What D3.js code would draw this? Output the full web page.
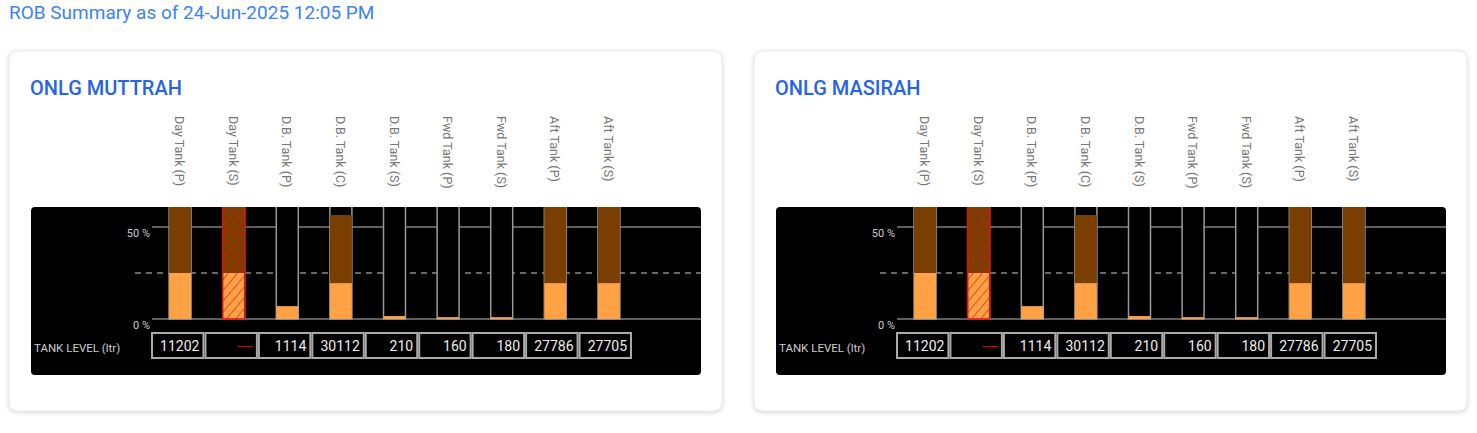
<!DOCTYPE html>
<html><head><meta charset="utf-8">
<script src="https://cdn.jsdelivr.net/npm/d3@7"></script>
<style>
body{margin:0;background:#fff;font-family:Roboto,"Open Sans",sans-serif;}
</style></head><body>
<svg id="chart" width="1477" height="433"></svg>
<script>
const vessels = ['ONLG MUTTRAH', 'ONLG MASIRAH'];
const tanks = ['Day Tank (P)', 'Day Tank (S)', 'D.B. Tank (P)', 'D.B. Tank (C)', 'D.B. Tank (S)', 'Fwd Tank (P)', 'Fwd Tank (S)', 'Aft Tank (P)', 'Aft Tank (S)'];
const fillPct = [25, 25, 7, 19.5, 1.6, 1, 1, 19.5, 19.5];      // orange level
const capacityPct = [100, 100, 0, 56.5, 0, 0, 0, 100, 100];     // brown level
const levels = ['11202', '----', '1114', '30112', '210', '160', '180', '27786', '27705'];
const faulty = [false, true, false, false, false, false, false, false, false];
const yTicks = [0, 50];

const svg = d3.select('#chart');
const defs = svg.append('defs');
const shadow = defs.append('filter').attr('id', 'sh').attr('x', -0.05).attr('y', -0.05).attr('width', 1.1).attr('height', 1.15);
shadow.append('feDropShadow').attr('dx', 0).attr('dy', 1).attr('stdDeviation', 2).attr('flood-color', '#000').attr('flood-opacity', 0.18);
const hatch = defs.append('pattern').attr('id', 'hatch').attr('patternUnits', 'userSpaceOnUse')
	.attr('width', 7).attr('height', 7).attr('patternTransform', 'rotate(40)');
hatch.append('line').attr('x1', 0).attr('y1', 0).attr('x2', 0).attr('y2', 7).attr('stroke', '#e01010').attr('stroke-width', 1.2);

svg.append('text').attr('x', 9).attr('y', 19).attr('fill', '#3b82f6')
	.style('font-size', '19px').text('ROB Summary as of 24-Jun-2025 12:05 PM');

function drawCard(name, ox) {
	const g = svg.append('g').attr('transform', `translate(${ox},0)`);
	g.append('rect').attr('x', 9).attr('y', 51).attr('width', 713).attr('height', 360).attr('rx', 8)
		.attr('fill', '#fff').attr('stroke', '#e5e7eb').attr('filter', 'url(#sh)');
	g.append('text').attr('x', 30).attr('y', 95).attr('fill', '#2563eb')
		.style('font-size', '20px').style('font-weight', 500).text(name);

	const x = d3.scaleBand().domain(tanks).range([153, 636]).paddingInner(0.59).paddingOuter(0.3);
	const y = d3.scaleLinear().domain([0, 50]).range([319, 227]);
	const top = 207, bottom = 375;

	g.append('rect').attr('x', 31).attr('y', top).attr('width', 670).attr('height', bottom - top).attr('rx', 4).attr('fill', '#000');
	const clip = 'clip' + ox;
	defs.append('clipPath').attr('id', clip).append('rect').attr('x', 31).attr('y', top).attr('width', 670).attr('height', bottom - top);
	const p = g.append('g').attr('clip-path', `url(#${clip})`);

	// grid
	p.selectAll('.grid').data(yTicks).enter().append('line')
		.attr('x1', 152).attr('x2', 701).attr('y1', d => y(d)).attr('y2', d => y(d))
		.attr('stroke', '#bbb').attr('stroke-width', 1);
	p.append('line').attr('x1', 135).attr('x2', 701).attr('y1', y(25)).attr('y2', y(25))
		.attr('stroke', '#ccc').attr('stroke-dasharray', '6,5');
	g.selectAll('.yl').data(yTicks).enter().append('text')
		.attr('x', 150).attr('y', d => y(d) + 10).attr('text-anchor', 'end')
		.attr('fill', '#ccc').style('font-size', '11px').text(d => `${d} %`);

	const bars = p.selectAll('.tank').data(tanks).enter().append('g');
	bars.append('rect').attr('x', d => x(d)).attr('y', y(100)).attr('width', x.bandwidth()).attr('height', y(0) - y(100))
		.attr('fill', '#000').attr('stroke', '#999').attr('stroke-width', 1.5);
	bars.append('rect').attr('x', d => x(d)).attr('width', x.bandwidth())
		.attr('y', (d, i) => y(capacityPct[i])).attr('height', (d, i) => y(0) - y(capacityPct[i]))
		.attr('fill', '#7a3f00');
	bars.append('rect').attr('x', d => x(d)).attr('width', x.bandwidth())
		.attr('y', (d, i) => y(fillPct[i])).attr('height', (d, i) => y(0) - y(fillPct[i]))
		.attr('fill', '#ffa245');
	bars.filter((d, i) => faulty[i]).append('rect').attr('x', d => x(d)).attr('width', x.bandwidth())
		.attr('y', y(100)).attr('height', y(0) - y(100))
		.attr('fill', 'url(#hatch)').attr('stroke', '#e01010').attr('stroke-width', 1.5);

	// labels
	g.selectAll('.tl').data(tanks).enter().append('text')
		.attr('transform', d => `translate(${x(d) + x.bandwidth() / 2 - 5},116) rotate(90)`)
		.attr('fill', '#777').style('font-size', '12.5px').text(d => d);

	// tank level row
	g.append('text').attr('x', 34).attr('y', 352).attr('fill', '#ccc').style('font-size', '11.5px').text('TANK LEVEL (ltr)');
	const cell = d3.scaleBand().domain(tanks).range([151, 632]);
	const cells = g.selectAll('.cell').data(tanks).enter().append('g');
	cells.append('rect').attr('x', d => cell(d) + 1).attr('y', 333).attr('width', cell.bandwidth() - 2).attr('height', 25)
		.attr('fill', '#000').attr('stroke', '#aaa').attr('stroke-width', 2);
	cells.append('text').attr('x', d => cell(d) + cell.bandwidth() - 5).attr('y', 351).attr('text-anchor', 'end')
		.attr('fill', (d, i) => faulty[i] ? '#e01010' : '#eee').style('font-size', '14px')
		.text((d, i) => levels[i]);
}
vessels.forEach((v, i) => drawCard(v, i * 745));
</script></body></html>
